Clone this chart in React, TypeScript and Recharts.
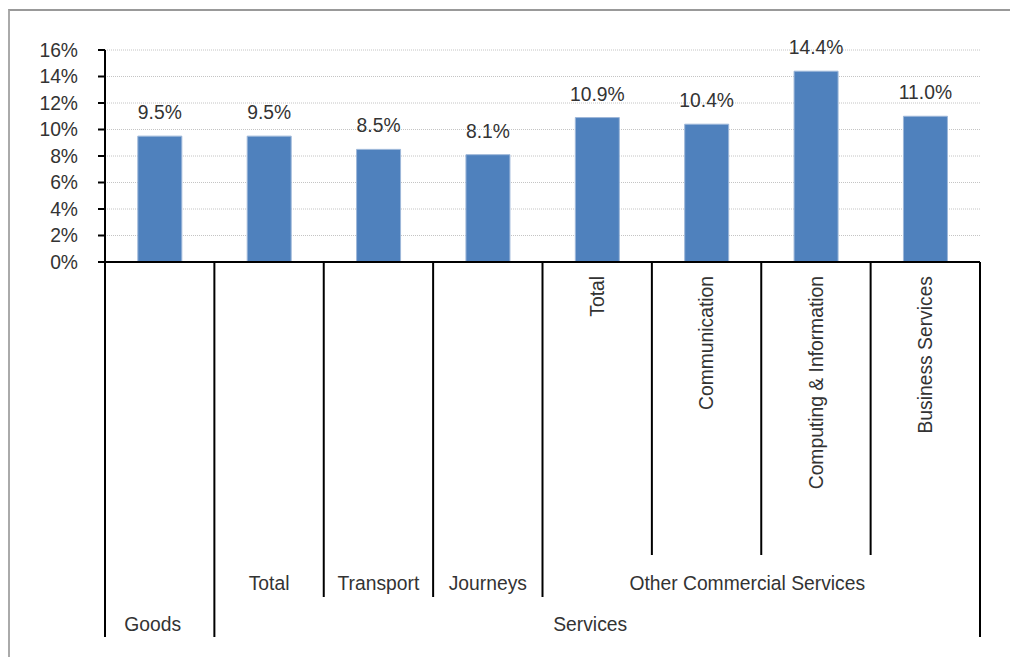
import { BarChart, Bar, XAxis, YAxis, CartesianGrid, LabelList } from 'recharts';

// bottom level: rotated labels (only under Other Commercial Services)
const LEVEL1 = ['', '', '', '', 'Total', 'Communication', 'Computing & Information', 'Business Services'];
// middle level
const LEVEL2 = ['', 'Total', 'Transport', 'Journeys', 'Other Commercial Services', 'Other Commercial Services', 'Other Commercial Services', 'Other Commercial Services'];
// top level
const LEVEL3 = ['Goods', 'Services', 'Services', 'Services', 'Services', 'Services', 'Services', 'Services'];
const GROWTH = [9.5, 9.5, 8.5, 8.1, 10.9, 10.4, 14.4, 11.0];
const Y_TICKS = [0, 2, 4, 6, 8, 10, 12, 14, 16];

const data = GROWTH.map((v, i) => ({ id: i, value: v }));

const W = 1010;
const H = 657;
const M = { top: 50, right: 30, left: 0, bottom: 0 };
const Y_AXIS_W = 105;
const X_AXIS_H = 395;
const BAND = (W - M.right - M.left - Y_AXIS_W) / GROWTH.length;

// y positions relative to the axis line
const L1_BOTTOM = 293;
const L2_BOTTOM = 335;
const L3_BOTTOM = 375;
const L1_TOP = 14;
const L2_TEXT = 328;
const L3_TEXT = 369;
// Excel centres the spanning group labels a little left of the span middle
const SPAN_NUDGE = -14;
const TOP_NUDGE = -7;

const FONT = '"Liberation Sans", Arial, sans-serif';
const TEXT = '#333';
const FS = 19.3;

function spanLen(levels: string[], i: number) {
  let n = 1;
  while (i + n < levels.length && levels[i + n] === levels[i]) n++;
  return n;
}

function MultiLevelTick(props: any) {
  const { x, y, payload } = props;
  const i = payload.index as number;
  const left = x - BAND / 2;
  const right = x + BAND / 2;
  const parts: any[] = [];

  // boundary line on the left edge of this category
  let lineBottom = L1_BOTTOM;
  if (i === 0 || LEVEL3[i] !== LEVEL3[i - 1]) lineBottom = L3_BOTTOM;
  else if (LEVEL2[i] !== LEVEL2[i - 1]) lineBottom = L2_BOTTOM;
  parts.push(<line key="l" x1={left} x2={left} y1={y} y2={y + lineBottom} stroke="#000" strokeWidth={2} />);
  if (i === GROWTH.length - 1) {
    parts.push(<line key="r" x1={right} x2={right} y1={y} y2={y + L3_BOTTOM} stroke="#000" strokeWidth={2} />);
  }

  if (LEVEL1[i]) {
    parts.push(
      <text key="t1" x={x} y={y + L1_TOP} transform={`rotate(-90 ${x} ${y + L1_TOP})`} textAnchor="end"
        dy="0.35em" fill={TEXT} fontSize={FS} fontFamily={FONT}>{LEVEL1[i]}</text>
    );
  }
  if (LEVEL2[i] && (i === 0 || LEVEL2[i] !== LEVEL2[i - 1])) {
    const n = spanLen(LEVEL2, i);
    const cx = left + (n * BAND) / 2 + (n > 1 ? SPAN_NUDGE : 0);
    parts.push(
      <text key="t2" x={cx} y={y + L2_TEXT} textAnchor="middle" fill={TEXT} fontSize={FS} fontFamily={FONT}>{LEVEL2[i]}</text>
    );
  }
  if (LEVEL3[i] && (i === 0 || LEVEL3[i] !== LEVEL3[i - 1])) {
    const cx = left + (spanLen(LEVEL3, i) * BAND) / 2 + TOP_NUDGE;
    parts.push(
      <text key="t3" x={cx} y={y + L3_TEXT} textAnchor="middle" fill={TEXT} fontSize={FS} fontFamily={FONT}>{LEVEL3[i]}</text>
    );
  }
  return <g>{parts}</g>;
}

export default function App() {
  return (
    <div style={{ position: 'absolute', left: 0, top: 0, width: W, height: H, overflow: 'hidden', background: '#fff' }}>
      <div style={{ position: 'absolute', left: 8, top: 9, width: W + 50, height: H + 50, borderTop: '2px solid #999', borderLeft: '2px solid #aaa' }} />
      <div style={{ position: 'absolute', left: 0, top: 0 }}>
        <BarChart width={W} height={H} data={data} margin={M} barCategoryGap="30%">
          <CartesianGrid vertical={false} stroke="#c4c4c4" strokeDasharray="1 1" />
          <XAxis dataKey="id" type="category" height={X_AXIS_H} interval={0} tickLine={false} tickSize={0} tickMargin={0}
            axisLine={{ stroke: '#000', strokeWidth: 2 }} tick={<MultiLevelTick />} />
          <YAxis width={Y_AXIS_W} domain={[0, 16]} ticks={Y_TICKS} interval={0} tickSize={7} tickMargin={20}
            tickFormatter={(v: number) => `${v}%`}
            axisLine={{ stroke: '#000', strokeWidth: 2 }} tickLine={{ stroke: '#000', strokeWidth: 2 }}
            tick={{ fill: TEXT, fontSize: FS, fontFamily: FONT }} />
          <Bar dataKey="value" fill="#4f81bd" stroke="#9db7d9" strokeWidth={1} isAnimationActive={false}>
            <LabelList dataKey="value" position="top" offset={17} formatter={(v: any) => `${Number(v).toFixed(1)}%`}
              style={{ fill: TEXT, fontSize: FS, fontFamily: FONT }} />
          </Bar>
        </BarChart>
      </div>
    </div>
  );
}
